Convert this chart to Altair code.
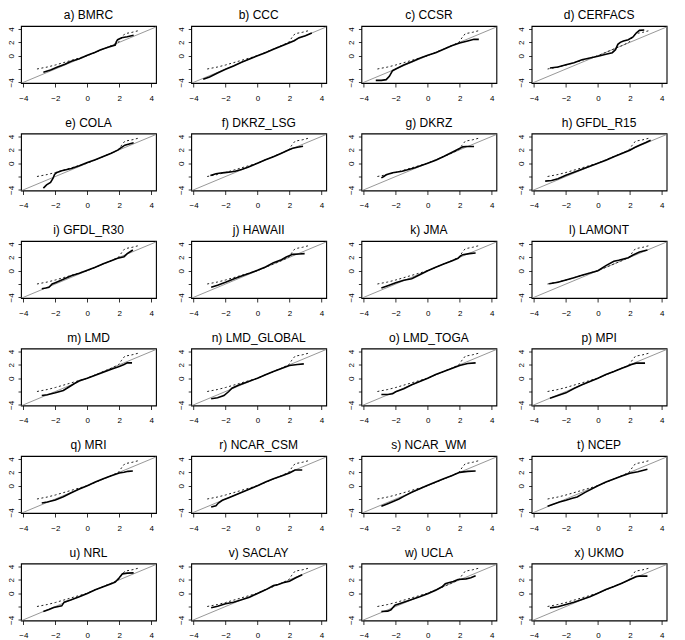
import altair as alt
import pandas as pd

# Shared reference (dotted) quantile curve
obs_x = [-3.15, -2.5, -2.0, -1.5, -1.0, -0.5, 0.0, 0.5, 1.0, 1.5, 1.95, 2.15, 2.35, 2.8, 3.2]
obs_y = [-2.0, -1.7, -1.4, -1.05, -0.7, -0.35, 0.0, 0.5, 1.0, 1.5, 2.0, 2.7, 3.3, 3.5, 3.75]

# Diagonal reference line end points
diag_v = [-4.3, 4.6]

titles = ["a) BMRC", "b) CCC", "c) CCSR", "d) CERFACS",
          "e) COLA", "f) DKRZ_LSG", "g) DKRZ", "h) GFDL_R15",
          "i) GFDL_R30", "j) HAWAII", "k) JMA", "l) LAMONT",
          "m) LMD", "n) LMD_GLOBAL", "o) LMD_TOGA", "p) MPI",
          "q) MRI", "r) NCAR_CSM", "s) NCAR_WM", "t) NCEP",
          "u) NRL", "v) SACLAY", "w) UCLA", "x) UKMO"]

bmrc_x = [-2.75, -2.3, -1.9, -1.4, -1.0, -0.5, 0.0, 0.5, 0.8, 1.3, 1.75, 1.82, 1.9, 2.15, 2.5, 2.9]
bmrc_y = [-2.5, -2.15, -1.75, -1.3, -0.85, -0.45, 0.05, 0.5, 0.85, 1.25, 1.6, 2.1, 2.4, 2.7, 2.85, 3.05]
ccc_x = [-3.4, -3.0, -2.5, -2.0, -1.5, -1.0, -0.5, 0.0, 0.5, 1.0, 1.5, 2.0, 2.3, 2.6, 3.0, 3.4]
ccc_y = [-3.55, -3.2, -2.6, -2.05, -1.55, -1.0, -0.5, 0.0, 0.45, 0.95, 1.45, 1.95, 2.25, 2.7, 3.0, 3.4]
ccsr_x = [-3.25, -2.9, -2.6, -2.4, -2.2, -2.0, -1.5, -1.0, -0.5, 0.0, 0.5, 1.0, 1.5, 2.0, 2.5, 2.9, 3.2]
ccsr_y = [-3.7, -3.7, -3.6, -3.1, -2.25, -2.0, -1.4, -0.9, -0.4, 0.05, 0.45, 0.95, 1.5, 1.9, 2.2, 2.45, 2.45]
cerfacs_x = [-3.0, -2.5, -2.0, -1.5, -1.0, -0.5, 0.0, 0.5, 0.9, 1.1, 1.25, 1.4, 1.6, 1.9, 2.2, 2.4, 2.6, 2.9]
cerfacs_y = [-1.85, -1.7, -1.35, -1.05, -0.6, -0.35, -0.1, 0.2, 0.45, 0.9, 1.7, 2.0, 2.2, 2.4, 2.8, 3.4, 3.8, 3.85]
cola_x = [-2.75, -2.55, -2.3, -2.15, -2.05, -1.9, -1.6, -1.0, -0.5, 0.0, 0.5, 1.0, 1.5, 1.9, 2.1, 2.35, 2.9]
cola_y = [-3.75, -3.25, -2.9, -2.3, -1.7, -1.4, -1.15, -0.8, -0.4, 0.1, 0.5, 1.0, 1.5, 1.95, 2.3, 2.7, 3.05]
dkrzlsg_x = [-2.95, -2.6, -2.2, -1.8, -1.4, -1.0, -0.6, 0.0, 0.5, 1.0, 1.5, 1.9, 2.2, 2.5, 2.85]
dkrzlsg_y = [-1.85, -1.6, -1.45, -1.35, -1.2, -0.95, -0.6, 0.0, 0.5, 0.95, 1.5, 1.95, 2.25, 2.4, 2.55]
dkrz_x = [-2.9, -2.75, -2.6, -2.2, -1.6, -1.2, -0.8, 0.0, 0.5, 1.0, 1.5, 1.9, 2.2, 2.4, 2.9]
dkrz_y = [-2.2, -2.0, -1.75, -1.45, -1.2, -0.95, -0.7, 0.0, 0.45, 1.0, 1.6, 2.1, 2.45, 2.5, 2.5]
r15_x = [-3.3, -2.9, -2.5, -2.0, -1.5, -1.0, -0.5, 0.0, 0.5, 1.0, 1.5, 2.0, 2.3, 2.6, 3.0, 3.3]
r15_y = [-2.7, -2.6, -2.35, -1.8, -1.35, -0.9, -0.45, 0.0, 0.45, 0.95, 1.45, 1.95, 2.35, 2.7, 3.1, 3.45]
r30_x = [-2.85, -2.6, -2.4, -2.2, -2.0, -1.5, -1.0, -0.5, 0.0, 0.5, 1.0, 1.5, 1.9, 2.3, 2.5, 2.85]
r30_y = [-2.7, -2.6, -2.5, -2.0, -1.8, -1.3, -0.75, -0.4, 0.05, 0.5, 1.05, 1.5, 1.85, 2.1, 2.55, 3.1]
hawaii_x = [-2.9, -2.5, -2.0, -1.5, -1.0, -0.5, 0.0, 0.5, 1.0, 1.5, 1.8, 2.2, 2.6, 2.95]
hawaii_y = [-2.5, -2.2, -1.75, -1.25, -0.8, -0.4, 0.05, 0.55, 1.2, 1.65, 2.05, 2.45, 2.5, 2.55]
jma_x = [-2.9, -2.5, -2.0, -1.5, -1.0, -0.5, 0.0, 0.5, 1.0, 1.5, 1.9, 2.05, 2.2, 2.6, 3.0]
jma_y = [-2.6, -2.25, -1.8, -1.45, -1.2, -0.6, 0.0, 0.5, 1.0, 1.45, 1.85, 2.2, 2.4, 2.55, 2.65]
lamont_x = [-3.05, -2.5, -2.0, -1.5, -1.0, -0.5, 0.0, 0.5, 1.0, 1.3, 1.6, 1.9, 2.2, 2.6, 3.1]
lamont_y = [-1.95, -1.75, -1.4, -1.05, -0.7, -0.35, 0.0, 0.75, 1.4, 1.55, 1.75, 1.95, 2.35, 2.8, 3.1]
lmd_x = [-2.85, -2.5, -2.0, -1.5, -1.2, -0.8, -0.5, 0.0, 0.5, 1.0, 1.5, 2.0, 2.3, 2.5, 2.8]
lmd_y = [-2.6, -2.5, -2.2, -1.85, -1.4, -0.8, -0.4, 0.0, 0.45, 0.9, 1.35, 1.75, 2.05, 2.3, 2.3]
lmdg_x = [-2.9, -2.5, -2.1, -1.8, -1.6, -1.2, -0.6, 0.0, 0.5, 1.0, 1.5, 2.0, 2.5, 2.9]
lmdg_y = [-3.1, -2.95, -2.6, -2.0, -1.5, -1.05, -0.55, 0.0, 0.5, 1.0, 1.45, 1.9, 2.05, 2.15]
lmdt_x = [-2.9, -2.5, -2.2, -2.0, -1.5, -1.0, -0.5, 0.0, 0.5, 1.0, 1.5, 2.0, 2.5, 3.0]
lmdt_y = [-2.45, -2.45, -2.35, -2.05, -1.6, -1.0, -0.5, 0.0, 0.55, 1.0, 1.45, 1.9, 2.2, 2.3]
mpi_x = [-3.0, -2.5, -2.0, -1.5, -1.0, -0.5, 0.0, 0.5, 1.0, 1.5, 1.8, 2.1, 2.4, 2.95]
mpi_y = [-3.0, -2.6, -2.2, -1.55, -1.0, -0.5, 0.0, 0.55, 1.0, 1.5, 1.75, 2.05, 2.25, 2.25]
mri_x = [-2.85, -2.5, -2.0, -1.5, -1.0, -0.5, 0.0, 0.5, 1.0, 1.5, 2.0, 2.3, 2.55, 2.85]
mri_y = [-2.6, -2.45, -2.15, -1.65, -1.05, -0.5, 0.0, 0.55, 1.05, 1.5, 1.9, 2.0, 2.15, 2.2]
csm_x = [-2.9, -2.6, -2.45, -2.2, -1.8, -1.2, -0.6, 0.0, 0.5, 1.0, 1.5, 2.0, 2.35, 2.8]
csm_y = [-3.2, -3.0, -2.6, -2.2, -1.8, -1.2, -0.6, 0.0, 0.55, 1.05, 1.45, 1.9, 2.35, 2.35]
wm_x = [-2.9, -2.5, -2.2, -1.8, -1.5, -1.0, -0.5, 0.0, 0.5, 1.0, 1.5, 2.0, 2.5, 3.0]
wm_y = [-3.1, -2.7, -2.4, -2.0, -1.6, -1.0, -0.45, 0.05, 0.55, 1.05, 1.5, 2.0, 2.15, 2.2]
ncep_x = [-3.15, -2.8, -2.4, -2.0, -1.6, -1.3, -0.8, 0.0, 0.5, 1.0, 1.5, 2.0, 2.5, 3.1]
ncep_y = [-3.1, -2.8, -2.45, -2.2, -1.9, -1.7, -1.0, 0.0, 0.55, 1.0, 1.45, 1.85, 2.1, 2.45]
nrl_x = [-2.75, -2.4, -2.1, -1.8, -1.6, -1.45, -1.0, -0.5, 0.0, 0.5, 1.0, 1.5, 1.75, 2.0, 2.2, 2.5, 2.9]
nrl_y = [-2.75, -2.45, -2.15, -2.0, -1.9, -1.35, -1.0, -0.55, -0.05, 0.5, 0.95, 1.4, 1.65, 2.3, 2.9, 3.0, 3.05]
saclay_x = [-2.9, -2.5, -2.0, -1.5, -1.0, -0.5, 0.0, 0.5, 1.0, 1.3, 1.6, 2.0, 2.4, 2.8]
saclay_y = [-2.2, -1.95, -1.6, -1.35, -1.0, -0.6, -0.05, 0.5, 1.15, 1.3, 1.55, 1.8, 2.3, 2.75]
ucla_x = [-2.9, -2.5, -2.3, -2.05, -1.5, -1.0, -0.5, 0.0, 0.5, 0.9, 1.1, 1.3, 1.6, 1.9, 2.4, 2.7, 3.0]
ucla_y = [-2.75, -2.7, -2.5, -1.8, -1.35, -0.95, -0.55, -0.1, 0.45, 0.95, 1.4, 1.55, 1.75, 2.05, 2.15, 2.3, 2.6]
ukmo_x = [-3.0, -2.5, -2.0, -1.5, -1.0, -0.5, 0.0, 0.5, 1.0, 1.5, 2.0, 2.4, 2.6, 3.1]
ukmo_y = [-2.2, -2.05, -1.7, -1.35, -0.95, -0.55, 0.0, 0.55, 1.0, 1.5, 2.05, 2.5, 2.55, 2.55]

model_x = [bmrc_x, ccc_x, ccsr_x, cerfacs_x, cola_x, dkrzlsg_x, dkrz_x, r15_x,
           r30_x, hawaii_x, jma_x, lamont_x, lmd_x, lmdg_x, lmdt_x, mpi_x,
           mri_x, csm_x, wm_x, ncep_x, nrl_x, saclay_x, ucla_x, ukmo_x]
model_y = [bmrc_y, ccc_y, ccsr_y, cerfacs_y, cola_y, dkrzlsg_y, dkrz_y, r15_y,
           r30_y, hawaii_y, jma_y, lamont_y, lmd_y, lmdg_y, lmdt_y, mpi_y,
           mri_y, csm_y, wm_y, ncep_y, nrl_y, saclay_y, ucla_y, ukmo_y]

tick_vals = [-4, -2, 0, 2, 4]
XDOM = [-4.15, 4.3]
YDOM = [-4.1, 4.45]

PW, PH = 135, 57
FONT = "Liberation Sans"


def panel(title, xs, ys):
    xsc = alt.Scale(domain=XDOM, nice=False, zero=False)
    ysc = alt.Scale(domain=YDOM, nice=False, zero=False)
    xax = alt.Axis(values=tick_vals, title=None, labelPadding=7, tickSize=4,
                   labelFlush=False, labelOverlap=False)
    yax = alt.Axis(values=tick_vals, title=None, labelAngle=-90, labelAlign="center",
                   labelBaseline="bottom", labelPadding=3, tickSize=3,
                   labelExpr="datum.value == -2 ? '' : datum.label",
                   labelFlush=False, labelOverlap=False)
    X = alt.X("x:Q", scale=xsc, axis=xax)
    Y = alt.Y("y:Q", scale=ysc, axis=yax)
    d_diag = pd.DataFrame({"x": diag_v, "y": diag_v})
    d_obs = pd.DataFrame({"x": obs_x, "y": obs_y, "o": list(range(len(obs_x)))})
    d_mod = pd.DataFrame({"x": xs, "y": ys, "o": list(range(len(xs)))})
    diag = alt.Chart(d_diag).mark_line(color="#8c8c8c", strokeWidth=0.9, clip=True).encode(
        x=X, y=Y
    )
    obs = alt.Chart(d_obs).mark_line(color="#222222", strokeWidth=1, strokeDash=[2, 2.5], clip=True).encode(
        x=X, y=Y, order="o:Q"
    )
    mod = alt.Chart(d_mod).mark_line(color="black", strokeWidth=1.6, clip=True).encode(
        x=X, y=Y, order="o:Q"
    )
    return alt.layer(diag, obs, mod).properties(width=PW, height=PH, title=title)


panels = [panel(titles[i], model_x[i], model_y[i]) for i in range(24)]

chart = alt.concat(*panels, columns=4, spacing={"row": 50.5, "column": 35.2}, bounds="flush").properties(
    padding={"left": -2, "top": 0, "right": 0, "bottom": 0}
).configure_view(
    stroke="black", strokeWidth=1.1
).configure_axis(
    domain=False, grid=False, tickColor="black", labelColor="black",
    labelFont=FONT, labelFontSize=8, tickWidth=0.8, labelOverlap=False
).configure_title(
    font=FONT, fontSize=12, fontWeight="normal", color="black", offset=0, anchor="middle"
)

chart.save("out.html", embed_options={"renderer": "svg", "actions": False})
